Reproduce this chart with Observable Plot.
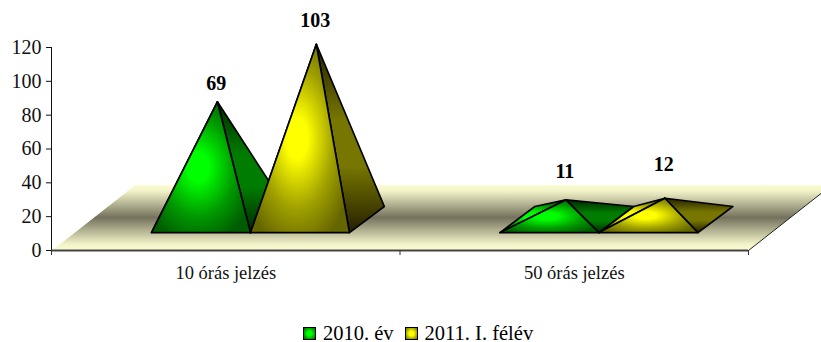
<!DOCTYPE html>
<html><head><meta charset="utf-8">
<script src="https://cdn.jsdelivr.net/npm/d3@7"></script>
<script src="https://cdn.jsdelivr.net/npm/@observablehq/plot@0.6"></script>
<style>
html,body{margin:0;padding:0;background:#fff;overflow:hidden}
#legend{display:flex;align-items:center;position:absolute;left:303px;top:322px;height:22px;font:20.5px "Liberation Serif",serif;color:#000;white-space:nowrap}
.sw{display:inline-block;box-sizing:border-box;width:13px;height:13px;border:1.5px solid #000;margin-right:7px}
.lab{margin-right:11px}
</style></head><body>
<div id="chart"></div>
<div id="legend"></div>
<script>
const categories = ["10 órás jelzés", "50 órás jelzés"];
const seriesNames = ["2010. év", "2011. I. félév"];
const values2010 = [69, 11];
const values2011 = [103, 12];
const yTicks = [0, 20, 40, 60, 80, 100, 120];
const xTicks = [0, 1, 2];
// label lift above apex (y units), per series then category
const labelLift = [[10.5, 17], [14, 20]];

// 3D projection constants, in data units
const floorDx = 0.241, floorDy = 39;
const baseY = 10.6, depthX = 0.1, depthY = 15.4, apexLift = 0.6;
const barW = 0.284, firstBar = 0.287;

const palette = [
  {id: "g", bright: "#00ff00", mid: "#009a00", edge: "#005c00", sideA: "#007c00", sideB: "#002800"},
  {id: "y", bright: "#ffff00", mid: "#a0a000", edge: "#666600", sideA: "#767600", sideB: "#241f00"}
];

function defs() {
  const d = d3.create("svg:defs");
  const f = d.append("linearGradient").attr("id", "floor").attr("x1", 0).attr("x2", 0).attr("y1", 0).attr("y2", 1);
  [[0, "#fdfdd2"], [0.1, "#f2f2c8"], [0.5, "#74725c"], [0.9, "#f2f2c8"], [1, "#fdfdd2"]]
    .forEach(([o, c]) => f.append("stop").attr("offset", o).attr("stop-color", c));
  for (const p of palette) {
    const r = d.append("radialGradient").attr("id", p.id + "F").attr("cx", 0.47).attr("cy", 0.5).attr("r", 0.6);
    [[0, p.bright], [0.18, p.bright], [0.62, p.mid], [1, p.edge]]
      .forEach(([o, c]) => r.append("stop").attr("offset", o).attr("stop-color", c));
    const s = d.append("linearGradient").attr("id", p.id + "S").attr("x1", 0).attr("x2", 0).attr("y1", 0).attr("y2", 1);
    [[0, p.sideB], [0.4, p.sideA], [0.65, p.sideA], [1, p.sideB]]
      .forEach(([o, c]) => s.append("stop").attr("offset", o).attr("stop-color", c));
  }
  return d.node();
}

const poly = (pts, fill, extra = {}) =>
  Plot.line(pts, {x: "x", y: "y", fill, stroke: "#000", strokeWidth: 1.7, curve: "linear-closed", ...extra});

const P = (x, y) => ({x, y});
function pyramid(value, catIndex, serIndex) {
  const x0 = catIndex + firstBar + serIndex * barW, x1 = x0 + barW;
  const fl = P(x0, baseY), fr = P(x1, baseY);
  const bl = P(x0 + depthX, baseY + depthY), br = P(x1 + depthX, baseY + depthY);
  const apex = P((x0 + x1) / 2 + depthX / 2 - 0.003, baseY + depthY / 2 + value + apexLift);
  const id = palette[serIndex].id;
  return {
    marks: [poly([fl, bl, apex], `url(#${id}F)`), poly([fr, br, apex], `url(#${id}S)`), poly([fl, fr, apex], `url(#${id}F)`)],
    label: {x: apex.x - 0.003, y: apex.y + labelLift[serIndex][catIndex], text: String(value)}
  };
}

const built = [values2010, values2011].flatMap((vals, s) => vals.map((v, c) => pyramid(v, c, s)));
const floor = [P(0, 0), P(floorDx, floorDy), P(2 + floorDx, floorDy), P(2, 0)];

const chart = Plot.plot({
  width: 821, height: 310,
  marginLeft: 51, marginRight: 73, marginTop: 47, marginBottom: 60,
  style: {background: "transparent", fontFamily: "'Liberation Serif',serif", overflow: "hidden"},
  x: {type: "linear", domain: [0, 2], axis: null},
  y: {type: "linear", domain: [0, 120], axis: null},
  marks: [
    defs,
    Plot.line(floor, {x: "x", y: "y", fill: "url(#floor)", stroke: "none", curve: "linear-closed"}),
    Plot.line([floor[0], floor[1], floor[2]], {x: "x", y: "y", stroke: "#fff", strokeWidth: 1}),
    Plot.line([floor[3], floor[2]], {x: "x", y: "y", stroke: "#222", strokeWidth: 1}),
    Plot.ruleX([0], {y1: 0, y2: 120, stroke: "#111", strokeWidth: 1}),
    Plot.ruleY([0], {x1: 0, x2: 2, stroke: "#444", strokeWidth: 2}),
    Plot.axisY(yTicks, {anchor: "left", tickSize: 5, tickPadding: 5, fontSize: 20, fill: "#111", stroke: "#111", label: null}),
    Plot.axisX(xTicks, {anchor: "bottom", tickSize: 5, tickFormat: () => "", stroke: "#333", label: null}),
    Plot.text(categories, {x: (d, i) => i + 0.5, y: 0, dy: 23, text: d => d, fontSize: 18.5, fill: "#111"}),
    ...built.flatMap(b => b.marks),
    Plot.text(built.map(b => b.label), {x: "x", y: "y", text: "text", fontSize: 20, fontWeight: "bold", fill: "#000"})
  ]
});
document.getElementById("chart").appendChild(chart);

const lg = d3.select("#legend");
seriesNames.forEach((n, i) => {
  const p = palette[i];
  lg.append("span").attr("class", "sw").style("background", `radial-gradient(circle, ${p.bright} 30%, ${p.edge} 100%)`);
  lg.append("span").attr("class", "lab").text(n);
});
</script>
</body></html>
